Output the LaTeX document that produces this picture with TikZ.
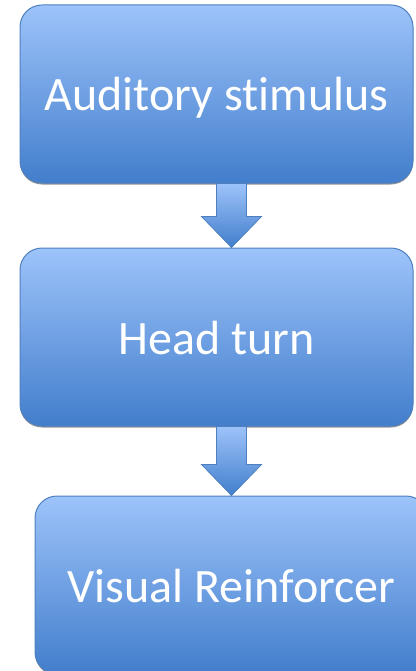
\documentclass[tikz,border=0pt]{standalone}
\usepackage{fontspec}
\setmainfont{Carlito}[Ligatures=NoCommon]
\usetikzlibrary{positioning,calc,shadows}
\definecolor{boxtop}{RGB}{157,195,250}
\definecolor{boxbottom}{RGB}{66,126,204}
\definecolor{boxline}{RGB}{78,128,192}

\begin{document}
\begin{tikzpicture}[x=1pt, y=1pt,
    stage/.style={draw=boxline, line width=1pt, rounded corners=22pt, top color=boxtop, bottom color=boxbottom,
        minimum width=393pt, minimum height=178pt, inner sep=0pt, text=white, font=\fontsize{48}{58}\selectfont,
        text height=34pt, text depth=0pt,
        drop shadow={shadow xshift=0pt, shadow yshift=-1.5pt, fill=black!60, opacity=0.7}},
    blockarrow/.style={draw=boxline, line width=0.8pt, top color=boxtop, bottom color=boxbottom}
]
\useasboundingbox (0,0) rectangle (415,-671);
\node[stage] (aud) at (216.5,-94) {Auditory stimulus};
\node[stage, below=64pt of aud] (head) {Head turn};
\node[stage, below=69pt of head, xshift=15pt] (vis) {Visual Reinforcer};
% block arrows between the stages
\foreach \a/\b in {aud/head, head/vis}
  \draw[blockarrow] let \p1=(\a.south), \p2=(\b.north), \p3=(vis.center) in
    (\x3-15pt,\y1) -- (\x3+15pt,\y1) -- (\x3+15pt,\y2+31pt) -- (\x3+30pt,\y2+31pt) -- (\x3,\y2)
    -- (\x3-30pt,\y2+31pt) -- (\x3-15pt,\y2+31pt) -- cycle;
\end{tikzpicture}
\end{document}
